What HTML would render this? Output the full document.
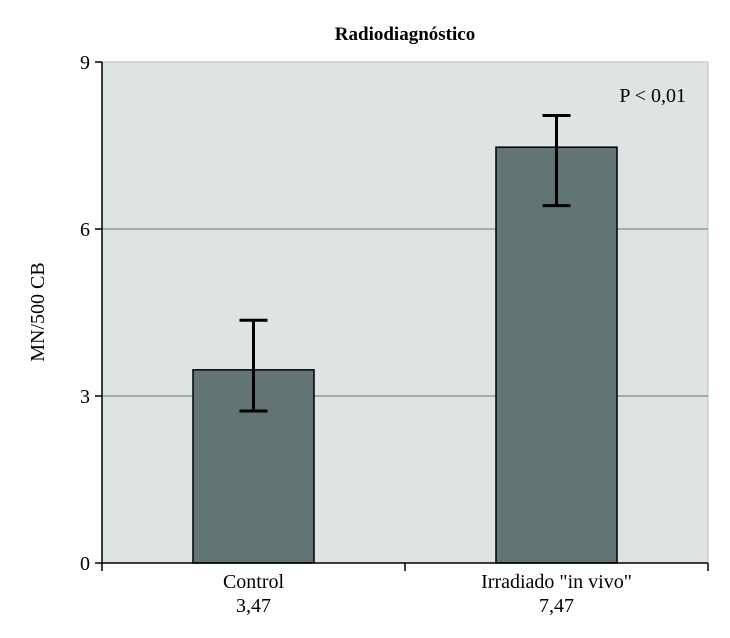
<!DOCTYPE html>
<html><head><meta charset="utf-8"><style>
body{margin:0;background:#fff;}
svg{display:block;font-family:"Liberation Serif",serif;}
</style></head><body>
<svg id="c" width="730" height="638"></svg>
<script>
const categories=["Control","Irradiado \"in vivo\""];
const valueLabels=["3,47","7,47"];
const values=[3.47,7.47];
const errHigh=[4.36,8.04];
const errLow=[2.73,6.42];
const yTicks=[0,3,6,9];
const NS="http://www.w3.org/2000/svg";
const svg=document.getElementById('c');
const L=102,R=708,T=62,B=563,ymax=9;
const y=v=>B-(v/ymax)*(B-T);
const band=(R-L)/categories.length;
const xc=i=>L+band*(i+0.5);
const bw=121;
function mk(t,a,p){const e=document.createElementNS(NS,t);for(const k in a)e.setAttribute(k,a[k]);(p||svg).appendChild(e);return e;}
const bg=mk('rect',{x:L,y:T,width:R-L,height:B-T,fill:'#dde4e2',stroke:'#b8c0bd','stroke-width':1});


yTicks.forEach(v=>{
 if(v>0&&v<ymax){const g=mk('line',{x1:L,x2:R,y1:y(v),y2:y(v),stroke:'#7d8c88','stroke-width':1.2});
 
 }
 const tk=mk('line',{x1:L-7,x2:L,y1:y(v),y2:y(v),stroke:'#000','stroke-width':1.5});
 
 
 const t=mk('text',{x:L-12,y:y(v)+7,'text-anchor':'end','font-size':20});t.textContent=v;
 
 
});
categories.forEach((c,i)=>{
 const b=mk('rect',{x:xc(i)-bw/2,y:y(values[i]),width:bw,height:B-y(values[i]),fill:'#637474',stroke:'#000','stroke-width':1.5});
 
 
 const e=mk('path',{d:`M${xc(i)},${y(errHigh[i])}V${y(errLow[i])}M${xc(i)-14},${y(errHigh[i])}H${xc(i)+14}M${xc(i)-14},${y(errLow[i])}H${xc(i)+14}`,stroke:'#000','stroke-width':3,fill:'none'});
 
 
 const t=mk('text',{x:xc(i),y:588,'text-anchor':'middle','font-size':20});t.textContent=c;
 
 
 const t2=mk('text',{x:xc(i),y:612,'text-anchor':'middle','font-size':20});t2.textContent=valueLabels[i];
 
 
});
for(let i=0;i<=categories.length;i++){const tk=mk('line',{x1:L+band*i,x2:L+band*i,y1:B,y2:B+8,stroke:'#000','stroke-width':1.5});
 
 }
const ax=mk('path',{d:`M${L},${T}V${B}H${R}`,stroke:'#000','stroke-width':1.5,fill:'none'});


const ti=mk('text',{x:405,y:40,'text-anchor':'middle','font-size':19,'font-weight':'bold'});ti.textContent='Radiodiagnóstico';


const yt=mk('text',{x:0,y:0,'text-anchor':'middle','font-size':20,transform:'translate(44,312) rotate(-90)'});yt.textContent='MN/500 CB';


const p=mk('text',{x:686,y:102,'text-anchor':'end','font-size':20});p.textContent='P < 0,01';


</script>
</body></html>
